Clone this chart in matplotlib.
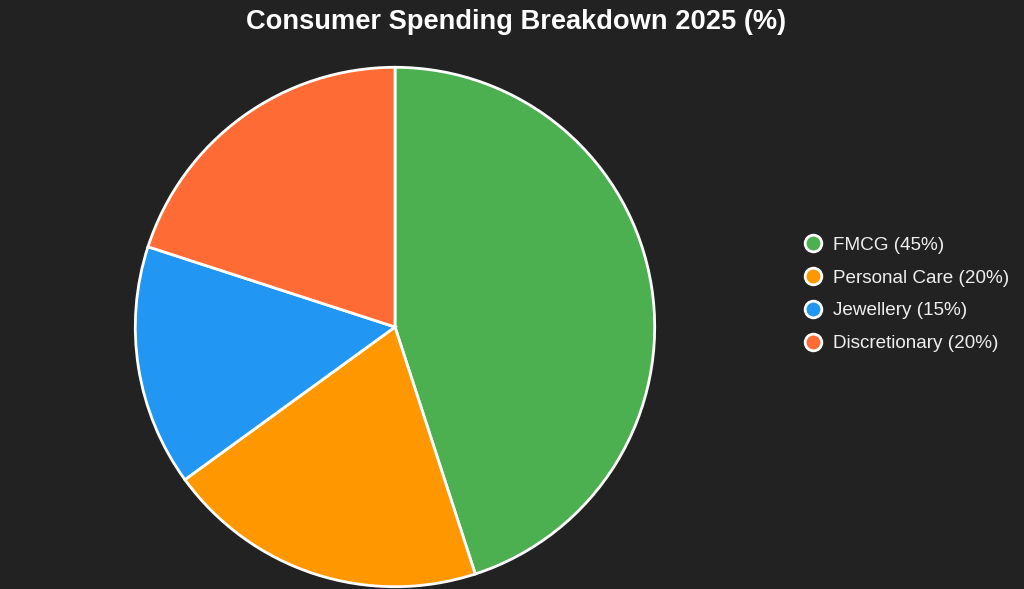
import matplotlib.pyplot as plt
from matplotlib.lines import Line2D

# data
categories = ["FMCG", "Personal Care", "Jewellery", "Discretionary"]
shares = [45, 20, 15, 20]
colors = ["#4CAF50", "#FF9800", "#2196F3", "#FF6B35"]

bg = "#222222"
plt.rcParams["font.family"] = ["Liberation Sans", "DejaVu Sans"]

fig = plt.figure(figsize=(10.24, 5.89), dpi=100, facecolor=bg)

# pie axes: centre ~ (395, 327) px, radius ~ 261 px
ax = fig.add_axes([134 / 1024, 1 / 589, 522 / 1024, 522 / 589])
ax.set_facecolor(bg)
ax.pie(
    shares,
    colors=colors,
    startangle=90,
    counterclock=False,
    wedgeprops={"edgecolor": "white", "linewidth": 2},
)
ax.set_xlim(-1.005, 1.005)
ax.set_ylim(-1.005, 1.005)
ax.set_aspect("equal")
ax.axis("off")

fig.text(516 / 1024, 1 - 22 / 589, "Consumer Spending Breakdown 2025 (%)",
         ha="center", va="center", fontsize=19.6, fontweight="bold", color="white")

handles = [
    Line2D([], [], marker="o", linestyle="none", markersize=12,
           markerfacecolor=c, markeredgecolor="white", markeredgewidth=2)
    for c in colors
]
labels = [f"{c} ({v}%)" for c, v in zip(categories, shares)]
fig.legend(
    handles, labels,
    loc="center left",
    bbox_to_anchor=(784.7 / 1024, 1 - 294.5 / 589),
    frameon=False,
    fontsize=13.6,
    labelcolor="#eeeeee",
    handletextpad=0.46,
    labelspacing=0.82,
    handlelength=1.2,
)

fig.savefig("out.png", dpi=100, facecolor=bg)
